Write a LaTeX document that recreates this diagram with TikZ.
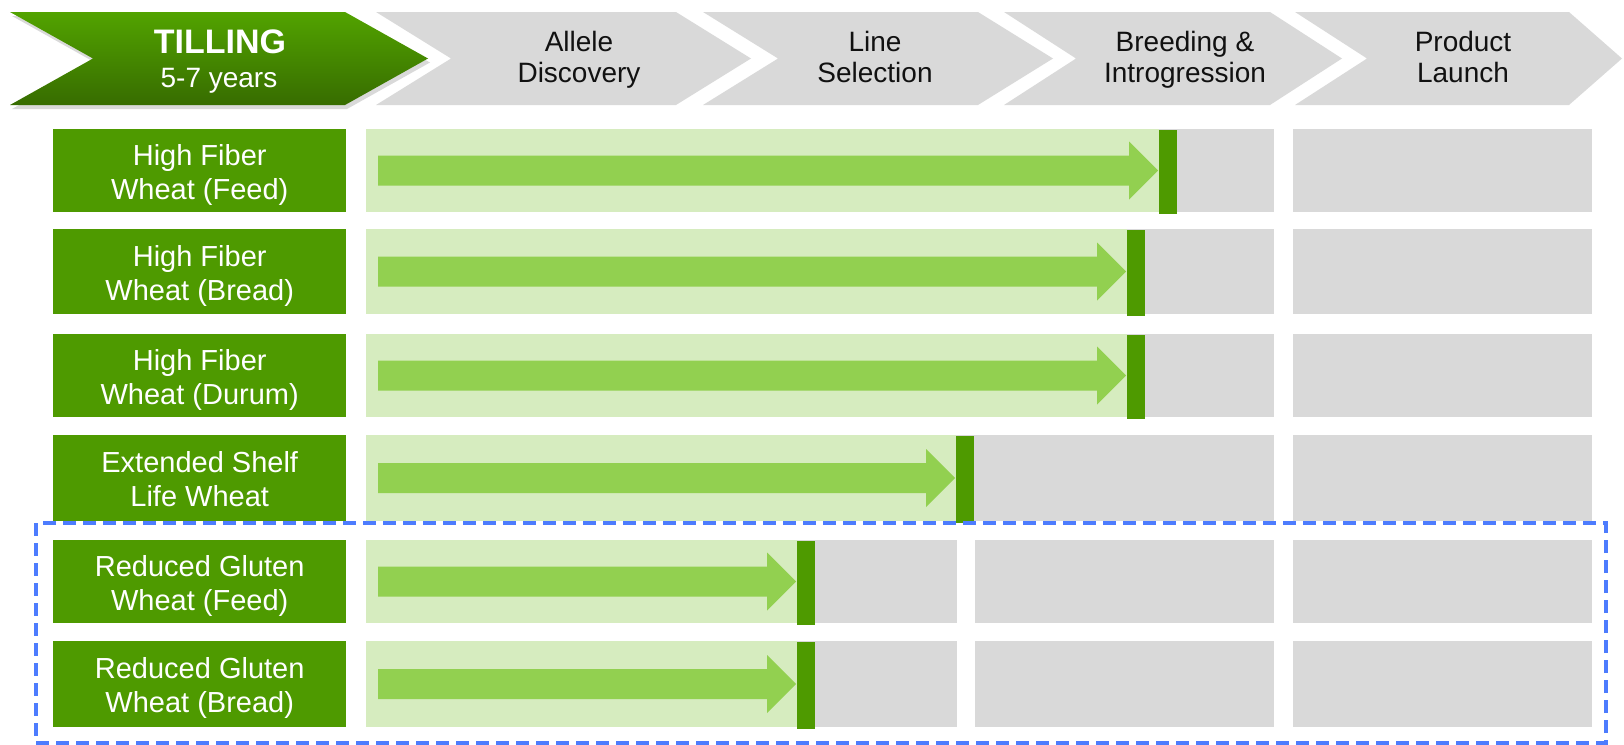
\documentclass[tikz,border=0pt]{standalone}
\usepackage{fontspec}
\setmainfont{Liberation Sans}
\usetikzlibrary{shadows}
\definecolor{dg}{HTML}{4E9A00}
\definecolor{tt}{HTML}{52A300}
\definecolor{tb}{HTML}{376C00}
\definecolor{lg}{HTML}{D6ECBF}
\definecolor{ag}{HTML}{92D050}
\definecolor{gr}{HTML}{D9D9D9}
\definecolor{bl}{HTML}{4D7CFE}
\definecolor{ink}{HTML}{111111}
\tikzset{
  hd/.style={align=center,text=ink,inner sep=0pt,font=\fontsize{28}{31}\selectfont,
    execute at begin node=\strut,execute at end node=\strut},
  lab/.style={fill=dg,text=white,align=center,inner sep=0pt,minimum width=293pt,anchor=north west,
    font=\fontsize{29}{34}\selectfont,
    execute at begin node={\rule{0pt}{65pt}},execute at end node={\rule[-8pt]{0pt}{8pt}}},
  cell/.style={fill=gr},
  done/.style={fill=lg},
  mk/.style={fill=dg},
  prog/.style={fill=ag},
  grp/.style={draw=bl,line width=3.5pt,dash pattern=on 13pt off 7pt},
}

\begin{document}
\begin{tikzpicture}[x=1pt,y=-1pt]
  \useasboundingbox (0,0) rectangle (1624,744);
  \path[top color=tt,bottom color=tb,drop shadow={opacity=.3,shadow xshift=2pt,shadow yshift=-4pt}]
    (10,12) -- (345,12) -- (428,58.5) -- (345,105) -- (10,105) -- (93,58.5) -- cycle;
  \foreach \xa/\xb/\xc/\xd in {376/451/676/751,703/778/978/1053,1004/1076/1270/1342,1295/1367/1569/1622}
    \fill[cell] (\xa,12) -- (\xc,12) -- (\xd,58.5) -- (\xc,105) -- (\xa,105) -- (\xb,58.5) -- cycle;
  \node[anchor=base,text=white,font=\fontsize{34}{34}\selectfont\bfseries] (till) at (220,53) {TILLING};
  \node[anchor=base,text=white,font=\fontsize{28}{28}\selectfont] (yrs) at (219,87) {5-7 years};
  \node[hd] (allele) at (579,62) {Allele\\Discovery};
  \node[hd] (line) at (875,62) {Line\\Selection};
  \node[hd] (breed) at (1185,62) {Breeding \&\\Introgression};
  \node[hd] (launch) at (1463,62) {Product\\Launch};

  \foreach \ya/\yb/\px/\xg/\txt [count=\i] in {
      129/212/1159/1274/{High Fiber\\Wheat (Feed)},
      229/314/1127/1274/{High Fiber\\Wheat (Bread)},
      334/417/1127/1274/{High Fiber\\Wheat (Durum)},
      435/521/956/1274/{Extended Shelf\\Life Wheat},
      540/623/797/957/{Reduced Gluten\\Wheat (Feed)},
      641/727/797/957/{Reduced Gluten\\Wheat (Bread)}}{
    \pgfmathsetmacro\yc{(\ya+\yb)/2}
    \node[lab,minimum height=\yb-\ya] (l\i) at (53,\ya) {\txt};
    \fill[cell] (366,\ya) rectangle (\xg,\yb);
    \fill[cell] (975,\ya) rectangle (1274,\yb);
    \fill[cell] (1293,\ya) rectangle (1592,\yb);
    \fill[done] (366,\ya) rectangle (\px,\yb);
    \fill[prog] (378,\yc-15) -- (\px-30,\yc-15) -- (\px-30,\yc-29) -- (\px-1,\yc)
      -- (\px-30,\yc+29) -- (\px-30,\yc+15) -- (378,\yc+15) -- cycle;
    \fill[mk] (\px,\ya+1) rectangle (\px+18,\yb+2);
  }
  \draw[grp] (36,523) rectangle (1606,743);
\end{tikzpicture}
\end{document}
